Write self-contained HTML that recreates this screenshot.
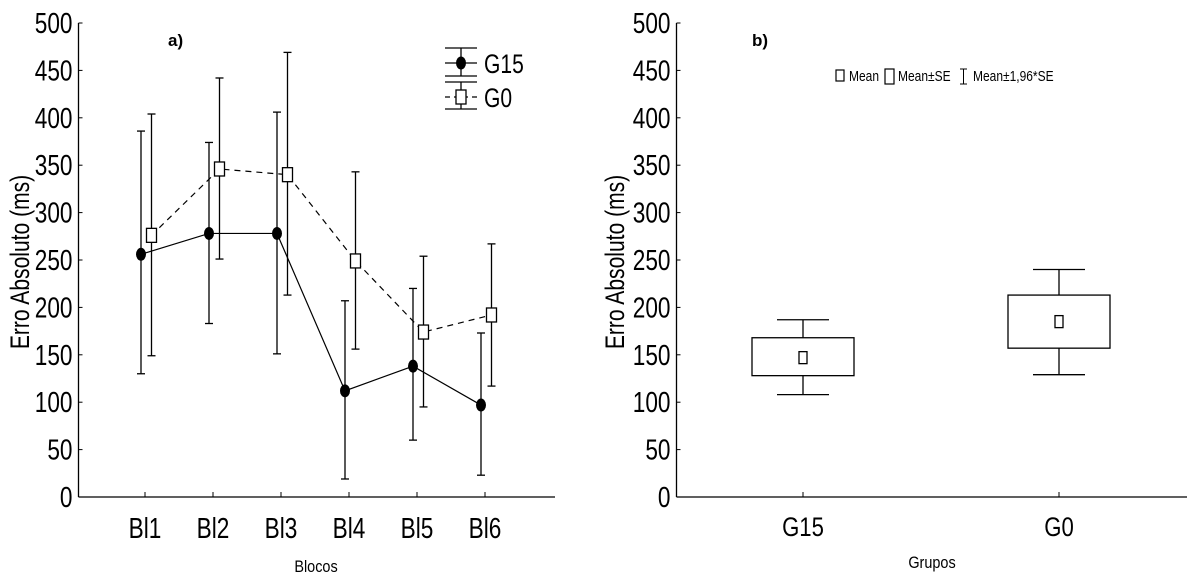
<!DOCTYPE html>
<html><head><meta charset="utf-8"><style>
html,body{margin:0;padding:0;background:#fff;}
svg{display:block;font-family:"Liberation Sans",sans-serif;}
</style></head><body>
<svg id="c" width="1200" height="585" viewBox="0 0 1200 585"></svg>
<script>
const categories = ["Bl1","Bl2","Bl3","Bl4","Bl5","Bl6"];
const g15Mean = [256,278,278,112,138,97];
const g15Low = [130,183,151,19,60,23];
const g15High = [386,374,406,207,220,173];
const g0Mean = [276,346,340,249,174,192];
const g0Low = [149,251,213,156,95,117];
const g0High = [404,442,469,343,254,267];
const yTicks = [0,50,100,150,200,250,300,350,400,450,500];
const groups = ["G15","G0"];
const grpMean = [147,185];
const grpSeLow = [128,157];
const grpSeHigh = [168,213];
const grpCiLow = [108,129];
const grpCiHigh = [187,240];

const NS="http://www.w3.org/2000/svg";
const svg=document.getElementById('c');
function el(tag,attrs,parent){const e=document.createElementNS(NS,tag);for(const k in attrs)e.setAttribute(k,attrs[k]);(parent||svg).appendChild(e);return e;}
function txt(s,x,y,fs,anchor,sx,parent,rot){const g=el('g',{transform:`translate(${x},${y})`+(rot?` rotate(${rot})`:'')+` scale(${sx},1)`},parent);const t=el('text',{x:0,y:0,'font-size':fs,'text-anchor':anchor,fill:'#000'},g);t.textContent=s;return g;}
const Y0=497,Y500=23;
function y(v){return Y0-(v/500)*(Y0-Y500);}

// ---------- Panel a ----------
const pa=el('g',{});


const AX=78.5, AXR=555;
function xa(i){return 145+i*68;}
el('line',{x1:AX,y1:Y500,x2:AX,y2:Y0,stroke:'#000','stroke-width':1.3},pa);
el('line',{x1:AX,y1:Y0,x2:AXR,y2:Y0,stroke:'#000','stroke-width':1.3},pa);
yTicks.forEach(v=>{el('line',{x1:AX,y1:y(v),x2:AX+4,y2:y(v),stroke:'#000'},pa);
 const t=txt(String(v),AX-6,y(v)+10,29,'end',0.78,pa);});
categories.forEach((c,i)=>{el('line',{x1:xa(i),y1:Y0,x2:xa(i),y2:Y0-5,stroke:'#000'},pa);
 const t=txt(c,xa(i),538,29,'middle',0.78,pa);});
const yt=txt("Erro Absoluto (ms)",29,262,27,'middle',0.78,pa,-90);

const xt=txt("Blocos",316,572,17,'middle',0.85,pa);

const ta=el('text',{x:168,y:46,'font-size':17,'font-weight':'bold',fill:'#000'},pa);ta.textContent='a)';

function series(mean,lo,hi,off,dashed,filled,name){
 const g=el('g',{},pa);
 
 
 el('polyline',{points:mean.map((v,i)=>`${xa(i)+off},${y(v)}`).join(' '),fill:'none',stroke:'#000','stroke-width':1.2,'stroke-dasharray':dashed?'6,5':'none'},g);
 mean.forEach((v,i)=>{const x=xa(i)+off;
  el('line',{x1:x,y1:y(lo[i]),x2:x,y2:y(hi[i]),stroke:'#000','stroke-width':1.3},g);
  el('line',{x1:x-4,y1:y(lo[i]),x2:x+4,y2:y(lo[i]),stroke:'#000','stroke-width':1.3},g);
  el('line',{x1:x-4,y1:y(hi[i]),x2:x+4,y2:y(hi[i]),stroke:'#000','stroke-width':1.3},g);
  let m;
  if(filled)m=el('ellipse',{cx:x,cy:y(v),rx:5,ry:6.5,fill:'#000'},g);
  else m=el('rect',{x:x-5,y:y(v)-7,width:10,height:14,fill:'#fff',stroke:'#000','stroke-width':1.3},g);
  
  
 });
}
series(g0Mean,g0Low,g0High,6.5,true,false,'series-g0');
series(g15Mean,g15Low,g15High,-4,false,true,'series-g15');
// legend
const lg=el('g',{},pa);


el('line',{x1:445,y1:48,x2:477,y2:48,stroke:'#000','stroke-width':1.3},lg);
el('line',{x1:461,y1:48,x2:461,y2:76,stroke:'#000','stroke-width':1.3},lg);
el('line',{x1:445,y1:76,x2:477,y2:76,stroke:'#000','stroke-width':1.3},lg);
el('line',{x1:445,y1:63,x2:477,y2:63,stroke:'#000','stroke-width':1.3},lg);
el('ellipse',{cx:461,cy:63,rx:5,ry:6.5,fill:'#000'},lg);
txt("G15",484,73,27,'start',0.78,lg);
el('line',{x1:445,y1:82,x2:477,y2:82,stroke:'#000','stroke-width':1.3},lg);
el('line',{x1:461,y1:82,x2:461,y2:109,stroke:'#000','stroke-width':1.3},lg);
el('line',{x1:445,y1:109,x2:477,y2:109,stroke:'#000','stroke-width':1.3},lg);
el('line',{x1:445,y1:97,x2:477,y2:97,stroke:'#000','stroke-width':1.2,'stroke-dasharray':'5,4'},lg);
el('rect',{x:456,y:90,width:10,height:14,fill:'#fff',stroke:'#000','stroke-width':1.3},lg);
txt("G0",484,107,27,'start',0.78,lg);

// ---------- Panel b ----------
const pb=el('g',{});


const BX=676.5,BXR=1187;
function xb(i){return 803+i*256;}
el('line',{x1:BX,y1:Y500,x2:BX,y2:Y0,stroke:'#000','stroke-width':1.3},pb);
el('line',{x1:BX,y1:Y0,x2:BXR,y2:Y0,stroke:'#000','stroke-width':1.3},pb);
yTicks.forEach(v=>{el('line',{x1:BX,y1:y(v),x2:BX+4,y2:y(v),stroke:'#000'},pb);
 const t=txt(String(v),BX-6,y(v)+10,29,'end',0.78,pb);});
groups.forEach((g,i)=>{el('line',{x1:xb(i),y1:Y0,x2:xb(i),y2:Y0-5,stroke:'#000'},pb);
 const t=txt(g,xb(i),536,27,'middle',0.82,pb);});
const yt2=txt("Erro Absoluto (ms)",624,262,27,'middle',0.78,pb,-90);

const xt2=txt("Grupos",932,568,17,'middle',0.85,pb);

const tb=el('text',{x:752,y:46,'font-size':17,'font-weight':'bold',fill:'#000'},pb);tb.textContent='b)';

groups.forEach((g,i)=>{const x=xb(i);
 const gg=el('g',{},pb);
 
 
 el('line',{x1:x,y1:y(grpCiLow[i]),x2:x,y2:y(grpCiHigh[i]),stroke:'#000','stroke-width':1.3},gg);
 el('line',{x1:x-26,y1:y(grpCiLow[i]),x2:x+26,y2:y(grpCiLow[i]),stroke:'#000','stroke-width':1.3},gg);
 el('line',{x1:x-26,y1:y(grpCiHigh[i]),x2:x+26,y2:y(grpCiHigh[i]),stroke:'#000','stroke-width':1.3},gg);
 el('rect',{x:x-51,y:y(grpSeHigh[i]),width:102,height:y(grpSeLow[i])-y(grpSeHigh[i]),fill:'#fff',stroke:'#000','stroke-width':1.3},gg);
 const m=el('rect',{x:x-4,y:y(grpMean[i])-6,width:8,height:12,fill:'#fff',stroke:'#000','stroke-width':1.3},gg);
 
 
});
const lb=el('g',{},pb);


el('rect',{x:836,y:70,width:8,height:11,fill:'#fff',stroke:'#000','stroke-width':1.2},lb);
txt("Mean",849,81,15,'start',0.8,lb);
el('rect',{x:885,y:69,width:9,height:15,fill:'#fff',stroke:'#000','stroke-width':1.2},lb);
txt("Mean±SE",898,81,15,'start',0.8,lb);
el('line',{x1:960,y1:69,x2:967,y2:69,stroke:'#000'},lb);
el('line',{x1:963.5,y1:69,x2:963.5,y2:84,stroke:'#000'},lb);
el('line',{x1:960,y1:84,x2:967,y2:84,stroke:'#000'},lb);
txt("Mean±1,96*SE",973,81,15,'start',0.8,lb);
</script>
</body></html>
